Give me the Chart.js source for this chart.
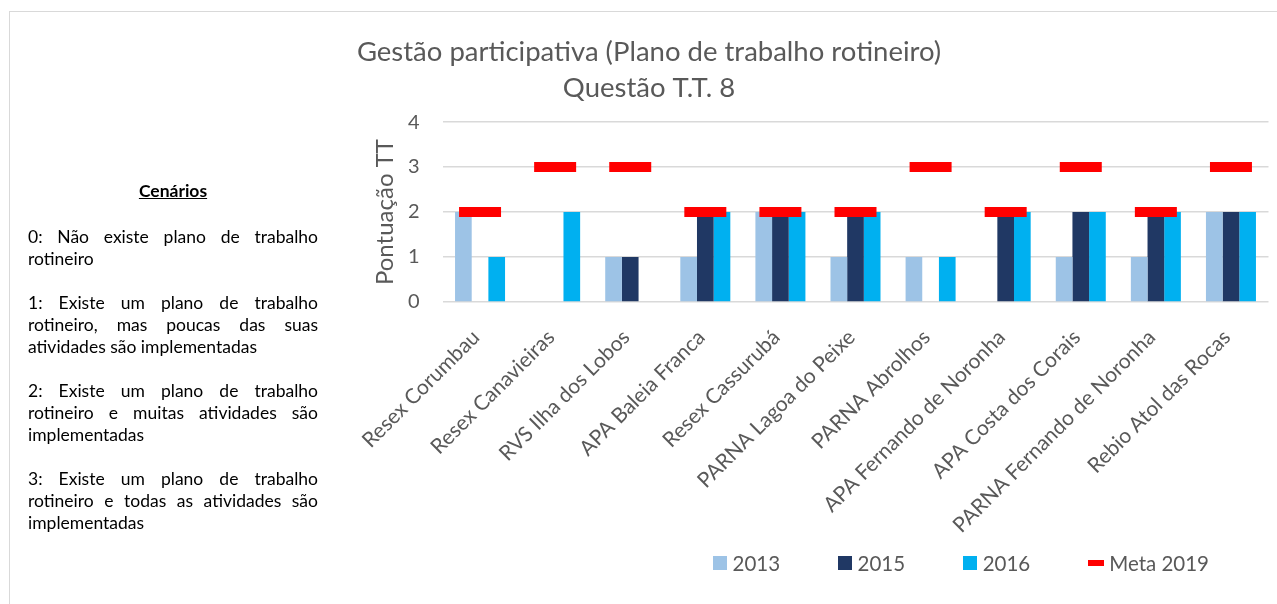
<!DOCTYPE html>
<html><head><meta charset="utf-8">
<script src="https://cdn.jsdelivr.net/npm/chart.js@4.4.1/dist/chart.umd.min.js"></script>
<style>
html,body{margin:0;padding:0;background:#fff;overflow:hidden}
#wrap{position:relative;width:1277px;height:604px;overflow:hidden;background:#fff}
#frame{position:absolute;left:9px;top:11px;width:1300px;height:640px;border:1px solid #D9D9D9;box-sizing:border-box}
#c{position:absolute;left:0;top:0}
#panel{position:absolute;left:28px;top:180px;width:290px;font-family:Lato,sans-serif;font-size:17.5px;line-height:22px;color:#000;text-align:justify}
#panel .h{margin:0;text-align:center;font-weight:bold;text-decoration:underline}
#panel p{margin:22px 0 0 0}
#panel p.first{margin-top:24px}
#legend{position:absolute;left:713px;top:551px;display:flex;gap:58px;font-family:Lato,sans-serif;font-size:20.5px;line-height:24px;color:#595959}
#legend .it{display:flex;align-items:center}
#legend .sw{width:14px;height:14px;margin-right:5.5px}
#legend .ln{width:16px;height:5.5px;margin-right:5px}
</style>
</head><body>
<div id="wrap">
  <div id="frame"></div>
  <canvas id="c" width="1277" height="604"></canvas>
  <div id="panel">
    <div class="h">Cenários</div>
    <p class="first">0: Não existe plano de trabalho rotineiro</p>
    <p>1: Existe um plano de trabalho rotineiro, mas poucas das suas atividades são implementadas</p>
    <p>2: Existe um plano de trabalho rotineiro e muitas atividades são implementadas</p>
    <p>3: Existe um plano de trabalho rotineiro e todas as atividades são implementadas</p>
  </div>
  <div id="legend"></div>
</div>
<script>
const categories = ['Resex Corumbau','Resex Canavieiras','RVS Ilha dos Lobos','APA Baleia Franca','Resex Cassurubá','PARNA Lagoa do Peixe','PARNA Abrolhos','APA Fernando de Noronha','APA Costa dos Corais','PARNA Fernando de Noronha','Rebio Atol das Rocas'];
const v2013 = [2,0,1,1,2,1,1,0,1,1,2];
const v2015 = [0,0,1,2,2,2,0,2,2,2,2];
const v2016 = [1,2,0,2,2,2,1,2,2,2,2];
const meta2019 = [2,3,3,2,2,2,3,2,3,2,3];
const yTicks = [0,1,2,3,4];
const seriesLabels = ['2013','2015','2016','Meta 2019'];
const titleLines = ['Gestão participativa (Plano de trabalho rotineiro)','Questão T.T. 8'];
const yTitle = 'Pontuação TT';

const colors = ['#9DC3E6','#203864','#00B0F0','#FF0000'];
const txt = '#595959';
const F = 'Lato, sans-serif';

const barCommon = {barPercentage:1, categoryPercentage:0.666, borderWidth:0, order:1};
const chart = new Chart(document.getElementById('c'), {
  type:'bar',
  data:{
    labels:categories,
    datasets:[
      Object.assign({label:seriesLabels[0], data:v2013, backgroundColor:colors[0]}, barCommon),
      Object.assign({label:seriesLabels[1], data:v2015, backgroundColor:colors[1]}, barCommon),
      Object.assign({label:seriesLabels[2], data:v2016, backgroundColor:colors[2]}, barCommon),
      {type:'line', label:seriesLabels[3], data:meta2019, showLine:false, pointStyle:'line',
       pointRadius:21, pointHoverRadius:21, pointBorderWidth:10, pointHoverBorderWidth:10,
       pointBorderColor:colors[3], borderColor:colors[3], backgroundColor:colors[3], order:-1}
    ]
  },
  options:{
    responsive:false, animation:false, devicePixelRatio:1,
    layout:{autoPadding:false, padding:{left:29.5,right:8.5,top:0,bottom:0}},
    plugins:{
      legend:{display:false}, tooltip:{enabled:false},
      title:{display:true, text:titleLines, color:txt, font:{family:F,size:27.5,weight:'normal',lineHeight:1.31}, padding:{top:34,bottom:16}}
    },
    scales:{
      x:{
        grid:{display:false}, border:{display:false},
        ticks:{autoSkip:false, minRotation:45, maxRotation:45, color:txt, font:{family:F,size:21}, padding:15, labelOffset:-4},
        afterFit(s){ s.height = 302; s.paddingLeft = 0; s.paddingRight = 0; }
      },
      y:{
        min:0, max:4,
        afterBuildTicks(s){ s.ticks = yTicks.map(v=>({value:v})); },
        grid:{color:'#D9D9D9', lineWidth:1.5, drawTicks:false},
        border:{display:false},
        ticks:{padding:23, color:txt, font:{family:F,size:20}},
        title:{display:true, text:yTitle, color:txt, font:{family:F,size:24,weight:'normal'}, padding:{top:341,bottom:0}},
        afterFit(s){ s.width = 413; }
      }
    }
  }
});

const lg = document.getElementById('legend');
chart.data.datasets.forEach((d,i)=>{
  const it = document.createElement('div'); it.className='it';
  const sw = document.createElement('span'); sw.className = d.type==='line' ? 'ln' : 'sw';
  sw.style.background = colors[i];
  const t = document.createElement('span'); t.textContent = d.label;
  it.appendChild(sw); it.appendChild(t); lg.appendChild(it);
});
</script>
</body></html>
